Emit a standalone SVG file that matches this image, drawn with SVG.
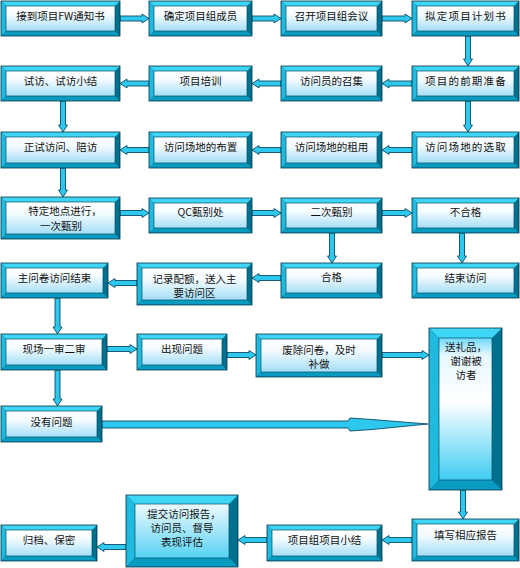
<svg xmlns="http://www.w3.org/2000/svg" width="520" height="568" viewBox="0 0 520 568">
<defs>
<linearGradient id="gf" x1="0" y1="0" x2="0" y2="1"><stop offset="0" stop-color="#ffffff"/><stop offset="0.35" stop-color="#f4fbff"/><stop offset="1" stop-color="#a4def6"/></linearGradient>
<linearGradient id="gt" x1="0" y1="0" x2="0" y2="1"><stop offset="0" stop-color="#6fd8f8"/><stop offset="0.12" stop-color="#e6f8ff"/><stop offset="0.45" stop-color="#ffffff"/><stop offset="1" stop-color="#40ccf2"/></linearGradient>
<linearGradient id="gm" x1="0" y1="0" x2="0" y2="1"><stop offset="0" stop-color="#eefaff"/><stop offset="1" stop-color="#56d2f4"/></linearGradient>
<style>
.r{fill:#00708f}
.t{fill:#3fd6f6}
.l{fill:#1fbade}
.b{fill:#0a9cc0}
.o{fill:none;stroke:#003345;stroke-width:0.8}
.f{fill:url(#gf);stroke:#005068;stroke-width:0.7}
.ft{fill:url(#gt);stroke:#005068;stroke-width:0.7}
.fm{fill:url(#gm);stroke:#005068;stroke-width:0.7}
.x{font-family:"Noto Sans CJK SC","Noto Sans",sans-serif;font-size:10.5px;fill:#111;text-anchor:middle}
.w{letter-spacing:1.2px}
.a{fill:#2ec8ee;stroke:#0a4d66;stroke-width:0.9}
</style>
</defs>
<rect width="520" height="568" fill="#ffffff"/>
<g id="connectors">
<path class="a" d="M120 16H142V14L149 18.5L142 23V21H120Z"/>
<path class="a" d="M252 16H274V14L281 18.5L274 23V21H252Z"/>
<path class="a" d="M382 16H405V14L412 18.5L405 23V21H382Z"/>
<path class="a" d="M465.5 36V59H463.5L468 66L472.5 59H470.5V36Z"/>
<path class="a" d="M412 81H389V79L382 83.5L389 88V86H412Z"/>
<path class="a" d="M281 81H259V79L252 83.5L259 88V86H281Z"/>
<path class="a" d="M149 81H127V79L120 83.5L127 88V86H149Z"/>
<path class="a" d="M60.5 101V125H58.5L63 132L67.5 125H65.5V101Z"/>
<path class="a" d="M465.5 101V125H463.5L468 132L472.5 125H470.5V101Z"/>
<path class="a" d="M412 147.5H389V145.5L382 150L389 154.5V152.5H412Z"/>
<path class="a" d="M281 147.5H259V145.5L252 150L259 154.5V152.5H281Z"/>
<path class="a" d="M149 147.5H127V145.5L120 150L127 154.5V152.5H149Z"/>
<path class="a" d="M60.5 168V190H58.5L63 197L67.5 190H65.5V168Z"/>
<path class="a" d="M120 210.5H142V208.5L149 213L142 217.5V215.5H120Z"/>
<path class="a" d="M252 210.5H274V208.5L281 213L274 217.5V215.5H252Z"/>
<path class="a" d="M382 210.5H405V208.5L412 213L405 217.5V215.5H382Z"/>
<path class="a" d="M329.5 233V256H327.5L332 263L336.5 256H334.5V233Z"/>
<path class="a" d="M459.5 233V256H457.5L462 263L466.5 256H464.5V233Z"/>
<path class="a" d="M281 275.5H259V273.5L252 278L259 282.5V280.5H281Z"/>
<path class="a" d="M137 280.5H115V278.5L108 283L115 287.5V285.5H137Z"/>
<path class="a" d="M55 298V327H53L57.5 334L62 327H60V298Z"/>
<path class="a" d="M107 346.5H130V344.5L137 349L130 353.5V351.5H107Z"/>
<path class="a" d="M227 352.5H249V350.5L256 355L249 359.5V357.5H227Z"/>
<path class="a" d="M382 352.5H422V350.5L429 355L422 359.5V357.5H382Z"/>
<path class="a" d="M55 370V399H53L57.5 406L62 399H60V370Z"/>
<path class="a" d="M102 421H348L350 418L372 419.5L428 424L372 429.5L350 431L348 428H102Z"/>
<path class="a" d="M460.5 490V512H458.5L463 519L467.5 512H465.5V490Z"/>
<path class="a" d="M412 537.5H389V535.5L382 540L389 544.5V542.5H412Z"/>
<path class="a" d="M267 537.5H245V535.5L238 540L245 544.5V542.5H267Z"/>
<path class="a" d="M126 544.5H104V542.5L97 547L104 551.5V549.5H126Z"/>
</g>
<g id="n1"><rect class="r" x="1" y="1" width="119" height="35"/><path class="t" d="M1 1H120L115 6H6Z"/><path class="l" d="M1 1L6 6V31L1 36Z"/><path class="b" d="M1 36L6 31H115L120 36Z"/><rect class="f" x="6" y="6" width="109" height="25"/><rect class="o" x="1" y="1" width="119" height="35"/><text class="x" x="60.5" y="20">接到项目FW通知书</text></g>
<g id="n2"><rect class="r" x="149" y="1" width="103" height="35"/><path class="t" d="M149 1H252L247 6H154Z"/><path class="l" d="M149 1L154 6V31L149 36Z"/><path class="b" d="M149 36L154 31H247L252 36Z"/><rect class="f" x="154" y="6" width="93" height="25"/><rect class="o" x="149" y="1" width="103" height="35"/><text class="x" x="200.5" y="20">确定项目组成员</text></g>
<g id="n3"><rect class="r" x="281" y="1" width="101" height="35"/><path class="t" d="M281 1H382L377 6H286Z"/><path class="l" d="M281 1L286 6V31L281 36Z"/><path class="b" d="M281 36L286 31H377L382 36Z"/><rect class="f" x="286" y="6" width="91" height="25"/><rect class="o" x="281" y="1" width="101" height="35"/><text class="x" x="331.5" y="20">召开项目组会议</text></g>
<g id="n4"><rect class="r" x="412" y="1" width="107" height="35"/><path class="t" d="M412 1H519L514 6H417Z"/><path class="l" d="M412 1L417 6V31L412 36Z"/><path class="b" d="M412 36L417 31H514L519 36Z"/><rect class="f" x="417" y="6" width="97" height="25"/><rect class="o" x="412" y="1" width="107" height="35"/><text class="x w" x="466" y="20">拟定项目计划书</text></g>
<g id="n5"><rect class="r" x="412" y="66" width="107" height="35"/><path class="t" d="M412 66H519L514 71H417Z"/><path class="l" d="M412 66L417 71V96L412 101Z"/><path class="b" d="M412 101L417 96H514L519 101Z"/><rect class="f" x="417" y="71" width="97" height="25"/><rect class="o" x="412" y="66" width="107" height="35"/><text class="x w" x="466" y="85">项目的前期准备</text></g>
<g id="n6"><rect class="r" x="281" y="66" width="101" height="35"/><path class="t" d="M281 66H382L377 71H286Z"/><path class="l" d="M281 66L286 71V96L281 101Z"/><path class="b" d="M281 101L286 96H377L382 101Z"/><rect class="f" x="286" y="71" width="91" height="25"/><rect class="o" x="281" y="66" width="101" height="35"/><text class="x" x="331.5" y="85">访问员的召集</text></g>
<g id="n7"><rect class="r" x="149" y="66" width="103" height="35"/><path class="t" d="M149 66H252L247 71H154Z"/><path class="l" d="M149 66L154 71V96L149 101Z"/><path class="b" d="M149 101L154 96H247L252 101Z"/><rect class="f" x="154" y="71" width="93" height="25"/><rect class="o" x="149" y="66" width="103" height="35"/><text class="x" x="200.5" y="85">项目培训</text></g>
<g id="n8"><rect class="r" x="1" y="66" width="119" height="35"/><path class="t" d="M1 66H120L115 71H6Z"/><path class="l" d="M1 66L6 71V96L1 101Z"/><path class="b" d="M1 101L6 96H115L120 101Z"/><rect class="f" x="6" y="71" width="109" height="25"/><rect class="o" x="1" y="66" width="119" height="35"/><text class="x" x="60.5" y="85">试访、试访小结</text></g>
<g id="n9"><rect class="r" x="1" y="132" width="119" height="36"/><path class="t" d="M1 132H120L115 137H6Z"/><path class="l" d="M1 132L6 137V163L1 168Z"/><path class="b" d="M1 168L6 163H115L120 168Z"/><rect class="f" x="6" y="137" width="109" height="26"/><rect class="o" x="1" y="132" width="119" height="36"/><text class="x" x="60.5" y="151">正试访问、陪访</text></g>
<g id="n10"><rect class="r" x="149" y="132" width="103" height="36"/><path class="t" d="M149 132H252L247 137H154Z"/><path class="l" d="M149 132L154 137V163L149 168Z"/><path class="b" d="M149 168L154 163H247L252 168Z"/><rect class="f" x="154" y="137" width="93" height="26"/><rect class="o" x="149" y="132" width="103" height="36"/><text class="x" x="200.5" y="151">访问场地的布置</text></g>
<g id="n11"><rect class="r" x="281" y="132" width="101" height="36"/><path class="t" d="M281 132H382L377 137H286Z"/><path class="l" d="M281 132L286 137V163L281 168Z"/><path class="b" d="M281 168L286 163H377L382 168Z"/><rect class="f" x="286" y="137" width="91" height="26"/><rect class="o" x="281" y="132" width="101" height="36"/><text class="x" x="331.5" y="151">访问场地的租用</text></g>
<g id="n12"><rect class="r" x="412" y="132" width="107" height="36"/><path class="t" d="M412 132H519L514 137H417Z"/><path class="l" d="M412 132L417 137V163L412 168Z"/><path class="b" d="M412 168L417 163H514L519 168Z"/><rect class="f" x="417" y="137" width="97" height="26"/><rect class="o" x="412" y="132" width="107" height="36"/><text class="x w" x="466" y="151">访问场地的选取</text></g>
<g id="n13"><rect class="r" x="1" y="197" width="119" height="42"/><path class="t" d="M1 197H120L115 202H6Z"/><path class="l" d="M1 197L6 202V234L1 239Z"/><path class="b" d="M1 239L6 234H115L120 239Z"/><rect class="f" x="6" y="202" width="109" height="32"/><rect class="o" x="1" y="197" width="119" height="42"/><text class="x"><tspan x="65" y="215">特定地点进行，</tspan><tspan x="61" y="230">一次甄别</tspan></text></g>
<g id="n14"><rect class="r" x="149" y="198" width="103" height="35"/><path class="t" d="M149 198H252L247 203H154Z"/><path class="l" d="M149 198L154 203V228L149 233Z"/><path class="b" d="M149 233L154 228H247L252 233Z"/><rect class="f" x="154" y="203" width="93" height="25"/><rect class="o" x="149" y="198" width="103" height="35"/><text class="x" x="200.5" y="216">QC甄别处</text></g>
<g id="n15"><rect class="r" x="281" y="198" width="101" height="35"/><path class="t" d="M281 198H382L377 203H286Z"/><path class="l" d="M281 198L286 203V228L281 233Z"/><path class="b" d="M281 233L286 228H377L382 233Z"/><rect class="f" x="286" y="203" width="91" height="25"/><rect class="o" x="281" y="198" width="101" height="35"/><text class="x" x="331.5" y="216">二次甄别</text></g>
<g id="n16"><rect class="r" x="412" y="198" width="107" height="35"/><path class="t" d="M412 198H519L514 203H417Z"/><path class="l" d="M412 198L417 203V228L412 233Z"/><path class="b" d="M412 233L417 228H514L519 233Z"/><rect class="f" x="417" y="203" width="97" height="25"/><rect class="o" x="412" y="198" width="107" height="35"/><text class="x" x="465.5" y="216">不合格</text></g>
<g id="n17"><rect class="r" x="412" y="263" width="107" height="35"/><path class="t" d="M412 263H519L514 268H417Z"/><path class="l" d="M412 263L417 268V293L412 298Z"/><path class="b" d="M412 298L417 293H514L519 298Z"/><rect class="f" x="417" y="268" width="97" height="25"/><rect class="o" x="412" y="263" width="107" height="35"/><text class="x" x="465.5" y="282">结束访问</text></g>
<g id="n18"><rect class="r" x="281" y="263" width="101" height="35"/><path class="t" d="M281 263H382L377 268H286Z"/><path class="l" d="M281 263L286 268V293L281 298Z"/><path class="b" d="M281 298L286 293H377L382 298Z"/><rect class="f" x="286" y="268" width="91" height="25"/><rect class="o" x="281" y="263" width="101" height="35"/><text class="x" x="331.5" y="281">合格</text></g>
<g id="n19"><rect class="r" x="137" y="263" width="115" height="42"/><path class="t" d="M137 263H252L247 268H142Z"/><path class="l" d="M137 263L142 268V300L137 305Z"/><path class="b" d="M137 305L142 300H247L252 305Z"/><rect class="f" x="142" y="268" width="105" height="32"/><rect class="o" x="137" y="263" width="115" height="42"/><text class="x"><tspan x="194.5" y="282.5">记录配额，送入主</tspan><tspan x="194.5" y="296.5">要访问区</tspan></text></g>
<g id="n20"><rect class="r" x="1" y="263" width="107" height="35"/><path class="t" d="M1 263H108L103 268H6Z"/><path class="l" d="M1 263L6 268V293L1 298Z"/><path class="b" d="M1 298L6 293H103L108 298Z"/><rect class="f" x="6" y="268" width="97" height="25"/><rect class="o" x="1" y="263" width="107" height="35"/><text class="x" x="54.5" y="282">主问卷访问结束</text></g>
<g id="n21"><rect class="r" x="1" y="334" width="106" height="36"/><path class="t" d="M1 334H107L102 339H6Z"/><path class="l" d="M1 334L6 339V365L1 370Z"/><path class="b" d="M1 370L6 365H102L107 370Z"/><rect class="f" x="6" y="339" width="96" height="26"/><rect class="o" x="1" y="334" width="106" height="36"/><text class="x" x="54" y="353">现场一审二审</text></g>
<g id="n22"><rect class="r" x="137" y="334" width="90" height="36"/><path class="t" d="M137 334H227L222 339H142Z"/><path class="l" d="M137 334L142 339V365L137 370Z"/><path class="b" d="M137 370L142 365H222L227 370Z"/><rect class="f" x="142" y="339" width="80" height="26"/><rect class="o" x="137" y="334" width="90" height="36"/><text class="x" x="182" y="353">出现问题</text></g>
<g id="n23"><rect class="r" x="256" y="334" width="126" height="43"/><path class="t" d="M256 334H382L377 339H261Z"/><path class="l" d="M256 334L261 339V372L256 377Z"/><path class="b" d="M256 377L261 372H377L382 377Z"/><rect class="f" x="261" y="339" width="116" height="33"/><rect class="o" x="256" y="334" width="126" height="43"/><text class="x"><tspan x="319" y="353.5">废除问卷，及时</tspan><tspan x="319" y="367.5">补做</tspan></text></g>
<g id="n24"><rect class="r" x="429" y="328" width="73" height="162"/><path class="t" d="M429 328H502L492 338H439Z"/><path class="l" d="M429 328L439 338V480L429 490Z"/><path class="b" d="M429 490L439 480H492L502 490Z"/><rect class="ft" x="439" y="338" width="53" height="142"/><rect class="o" x="429" y="328" width="73" height="162"/><text class="x"><tspan x="466" y="351">送礼品，</tspan><tspan x="466" y="365">谢谢被</tspan><tspan x="466" y="379">访者</tspan></text></g>
<g id="n25"><rect class="r" x="1" y="406" width="101" height="36"/><path class="t" d="M1 406H102L97 411H6Z"/><path class="l" d="M1 406L6 411V437L1 442Z"/><path class="b" d="M1 442L6 437H97L102 442Z"/><rect class="f" x="6" y="411" width="91" height="26"/><rect class="o" x="1" y="406" width="101" height="36"/><text class="x" x="51.5" y="426">没有问题</text></g>
<g id="n26"><rect class="r" x="412" y="519" width="107" height="42"/><path class="t" d="M412 519H519L514 524H417Z"/><path class="l" d="M412 519L417 524V556L412 561Z"/><path class="b" d="M412 561L417 556H514L519 561Z"/><rect class="f" x="417" y="524" width="97" height="32"/><rect class="o" x="412" y="519" width="107" height="42"/><text class="x" x="465.5" y="539">填写相应报告</text></g>
<g id="n27"><rect class="r" x="267" y="525" width="115" height="36"/><path class="t" d="M267 525H382L377 530H272Z"/><path class="l" d="M267 525L272 530V556L267 561Z"/><path class="b" d="M267 561L272 556H377L382 561Z"/><rect class="f" x="272" y="530" width="105" height="26"/><rect class="o" x="267" y="525" width="115" height="36"/><text class="x" x="324.5" y="544">项目组项目小结</text></g>
<g id="n28"><rect class="r" x="126" y="495" width="112" height="72"/><path class="t" d="M126 495H238L229 504H135Z"/><path class="l" d="M126 495L135 504V558L126 567Z"/><path class="b" d="M126 567L135 558H229L238 567Z"/><rect class="fm" x="135" y="504" width="94" height="54"/><rect class="o" x="126" y="495" width="112" height="72"/><text class="x"><tspan x="184" y="518">提交访问报告，</tspan><tspan x="182" y="532">访问员、督导</tspan><tspan x="182" y="546">表现评估</tspan></text></g>
<g id="n29"><rect class="r" x="1" y="525" width="96" height="36"/><path class="t" d="M1 525H97L92 530H6Z"/><path class="l" d="M1 525L6 530V556L1 561Z"/><path class="b" d="M1 561L6 556H92L97 561Z"/><rect class="f" x="6" y="530" width="86" height="26"/><rect class="o" x="1" y="525" width="96" height="36"/><text class="x" x="49" y="544">归档、保密</text></g>
</svg>
